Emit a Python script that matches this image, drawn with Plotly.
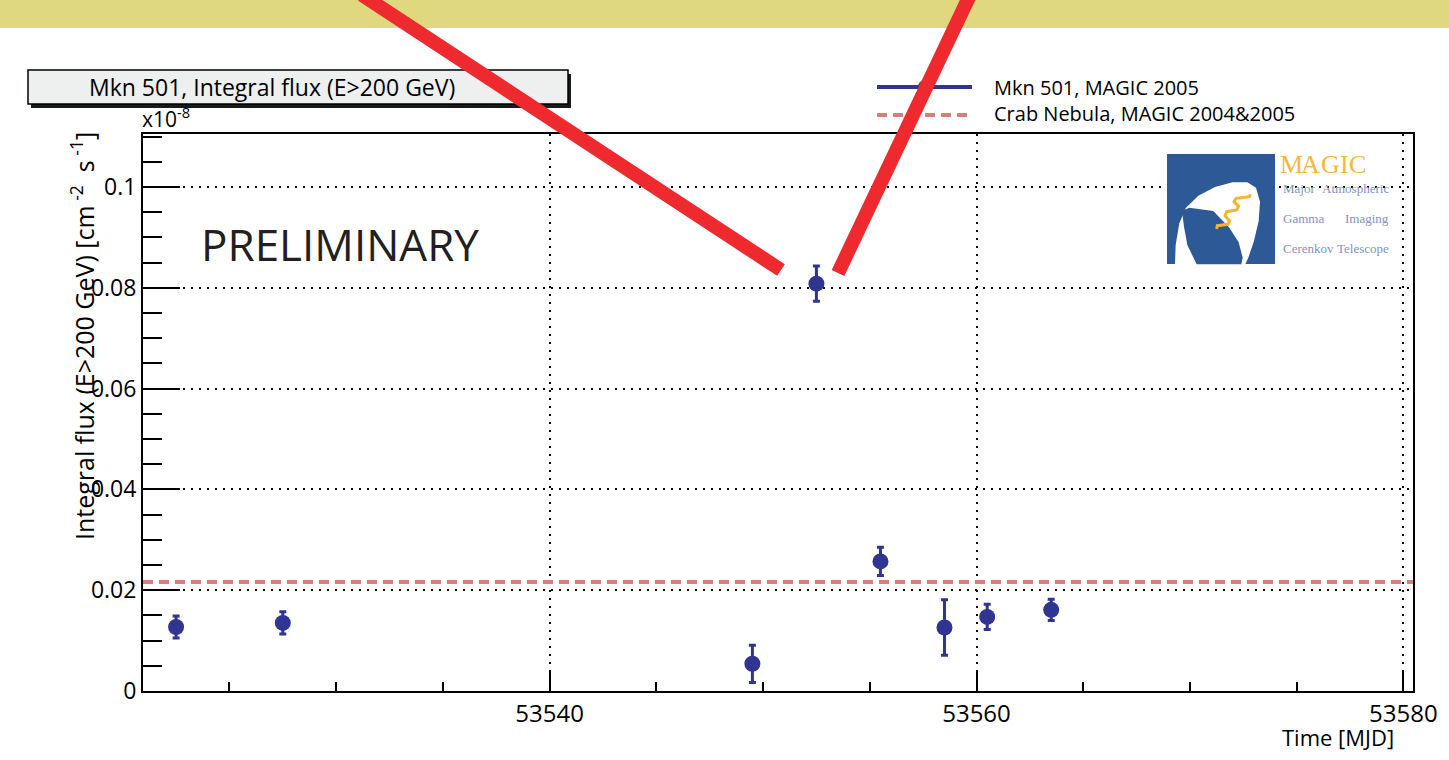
import plotly.graph_objects as go

# ---------------- data ----------------
mjd = [53522.5, 53527.5, 53549.5, 53552.5, 53555.5, 53558.5, 53560.5, 53563.5]
flux = [0.0127, 0.0135, 0.0054, 0.0808, 0.0257, 0.0126, 0.0147, 0.0161]
flux_err = [0.0022, 0.0022, 0.0037, 0.0035, 0.0028, 0.0055, 0.0025, 0.0021]
crab_flux = 0.0216
x_range = [53520.95, 53580.45]
y_range = [0.0, 0.1105]
y_tickvals = [0, 0.02, 0.04, 0.06, 0.08, 0.1]
y_ticktext = ["0", "0.02", "0.04", "0.06", "0.08", "0.1"]
x_tickvals = [53540, 53560, 53580]
x_ticktext = ["53540", "53560", "53580"]

W, H = 1449, 760
L, R, T, B = 143, 1413, 134, 691


def px(x):
    return (x - L) / (R - L)


def py(y):
    return (B - y) / (B - T)


def path_from(points, close=True):
    s = "M " + " L ".join(f"{px(a):.5f},{py(b):.5f}" for a, b in points)
    return s + (" Z" if close else "")


def logo(zx, zy):
    return (1160 + zx / 3.0, 145 + zy / 3.0)


BLUE = "#2f3590"
CRAB = "#d67e7e"
LOGO_BLUE = "#2d5a96"
FONT = "Open Sans"

fig = go.Figure()

fig.add_trace(go.Scatter(
    x=x_range, y=[crab_flux, crab_flux], mode="lines",
    line=dict(color=CRAB, width=4, dash="10px,6px"),
    hoverinfo="skip", showlegend=False, cliponaxis=True,
))

fig.add_trace(go.Scatter(
    x=mjd, y=flux, mode="markers",
    marker=dict(color=BLUE, size=16, line=dict(width=0)),
    error_y=dict(type="data", array=flux_err, color=BLUE, thickness=3, width=3.5),
    showlegend=False,
))

shapes = []
# yellow band at top of slide
shapes.append(dict(type="rect", xref="paper", yref="paper",
                   x0=px(0), x1=px(W), y0=py(0), y1=py(28),
                   fillcolor="#dfd87e", line=dict(width=0), layer="below"))
# title box with shadow
shapes.append(dict(type="rect", xref="paper", yref="paper",
                   x0=px(31), x1=px(571), y0=py(74), y1=py(108),
                   fillcolor="#1a1a1a", line=dict(width=0), layer="above"))
shapes.append(dict(type="rect", xref="paper", yref="paper",
                   x0=px(28), x1=px(568), y0=py(70), y1=py(104),
                   fillcolor="#eef0f0", line=dict(color="black", width=1.5), layer="above"))
# legend symbols
shapes.append(dict(type="line", xref="paper", yref="paper",
                   x0=px(877), x1=px(972), y0=py(87), y1=py(87),
                   line=dict(color=BLUE, width=4), layer="above"))
shapes.append(dict(type="circle", xref="paper", yref="paper",
                   x0=px(918), x1=px(932), y0=py(80), y1=py(94),
                   fillcolor=BLUE, line=dict(width=0), layer="above"))
shapes.append(dict(type="line", xref="paper", yref="paper",
                   x0=px(877), x1=px(972), y0=py(115), y1=py(115),
                   line=dict(color=CRAB, width=4, dash="10px,6px"), layer="above"))
# MAGIC logo
shapes.append(dict(type="rect", xref="paper", yref="paper",
                   x0=px(1167), x1=px(1275), y0=py(154), y1=py(264),
                   fillcolor=LOGO_BLUE, line=dict(width=0), layer="above"))
oval = [logo(*p) for p in [(45, 358), (47, 300), (58, 235), (78, 188), (115, 152),
                           (165, 126), (218, 112), (262, 112), (288, 128), (300, 170),
                           (296, 228), (282, 288), (266, 335), (256, 358)]]
shapes.append(dict(type="path", xref="paper", yref="paper", path=path_from(oval),
                   fillcolor="white", line=dict(width=0), layer="above"))
inner = [logo(*p) for p in [(66, 198), (88, 188), (160, 198), (208, 248), (236, 292),
                            (248, 338), (244, 358), (110, 358), (82, 300), (72, 245)]]
shapes.append(dict(type="path", xref="paper", yref="paper", path=path_from(inner),
                   fillcolor=LOGO_BLUE, line=dict(width=0), layer="above"))
wiggle = [logo(*p) for p in [(170, 252), (172, 242), (204, 238), (209, 228), (195, 212),
                             (200, 200), (230, 195), (236, 184), (222, 170), (228, 160),
                             (255, 157), (268, 155), (272, 148)]]
shapes.append(dict(type="path", xref="paper", yref="paper", path=path_from(wiggle, close=False),
                   line=dict(color="#f2b632", width=3), layer="above"))
# red slashes
shapes.append(dict(type="line", xref="paper", yref="paper",
                   x0=px(362), y0=py(-5), x1=px(781), y1=py(270),
                   line=dict(color="#ee2a2e", width=14), layer="above"))
shapes.append(dict(type="line", xref="paper", yref="paper",
                   x0=px(970), y0=py(-5), x1=px(838), y1=py(273),
                   line=dict(color="#ee2a2e", width=14), layer="above"))

ann = []
ann.append(dict(text="Mkn 501, Integral flux (E>200 GeV)", x=px(272), y=py(87),
                xref="paper", yref="paper", showarrow=False, xanchor="center", yanchor="middle",
                font=dict(family=FONT, size=23, color="black")))
ann.append(dict(text="Mkn 501, MAGIC 2005", x=px(992), y=py(87),
                xref="paper", yref="paper", showarrow=False, xanchor="left", yanchor="middle",
                font=dict(family=FONT, size=20, color="black")))
ann.append(dict(text="Crab Nebula, MAGIC 2004&2005", x=px(992), y=py(113),
                xref="paper", yref="paper", showarrow=False, xanchor="left", yanchor="middle",
                font=dict(family=FONT, size=20, color="black")))
ann.append(dict(text="PRELIMINARY", x=px(199), y=py(244),
                xref="paper", yref="paper", showarrow=False, xanchor="left", yanchor="middle",
                font=dict(family=FONT, size=44, color="#231f20")))
ann.append(dict(text="x10<sup>-8</sup>", x=px(140), y=py(135),
                xref="paper", yref="paper", showarrow=False, xanchor="left", yanchor="bottom",
                font=dict(family=FONT, size=21, color="black")))
ann.append(dict(text="Integral flux (E>200 GeV) [cm<sup> -2</sup>  s<sup> -1</sup>]",
                x=px(82), y=py(130), textangle=-90,
                xref="paper", yref="paper", showarrow=False, xanchor="center", yanchor="top",
                font=dict(family=FONT, size=25, color="black")))
ann.append(dict(text="Time [MJD]", x=px(1396), y=py(737),
                xref="paper", yref="paper", showarrow=False, xanchor="right", yanchor="middle",
                font=dict(family=FONT, size=22, color="black")))
# MAGIC logo text
for letter, cx in zip("MAGIC", [1291, 1310, 1330, 1344, 1357]):
    ann.append(dict(text=letter, x=px(cx), y=py(165),
                    xref="paper", yref="paper", showarrow=False, xanchor="center", yanchor="middle",
                    font=dict(family="Liberation Serif", size=26, color="#f5b83d")))
for (lw, rw, yy) in [("Major", "Atmospheric", 188), ("Gamma", "Imaging", 218),
                     ("Cerenkov", "Telescope", 248)]:
    ann.append(dict(text=lw, x=px(1281), y=py(yy), xref="paper", yref="paper",
                    showarrow=False, xanchor="left", yanchor="middle",
                    font=dict(family="Liberation Serif", size=13, color="#7f93bb")))
    ann.append(dict(text=rw, x=px(1391), y=py(yy), xref="paper", yref="paper",
                    showarrow=False, xanchor="right", yanchor="middle",
                    font=dict(family="Liberation Serif", size=13, color="#7f93bb")))

fig.update_layout(
    width=W, height=H,
    margin=dict(l=L, r=W - R, t=T, b=H - B, pad=0),
    paper_bgcolor="white", plot_bgcolor="white",
    showlegend=False,
    shapes=shapes, annotations=ann,
    font=dict(family=FONT, color="black"),
)

fig.update_xaxes(
    range=x_range, tickmode="array", tickvals=x_tickvals, ticktext=x_ticktext,
    ticks="inside", ticklen=19, tickwidth=2, tickcolor="black",
    showline=True, linecolor="black", linewidth=2, mirror=True,
    showgrid=True, gridcolor="black", gridwidth=2, griddash="2px,6px",
    zeroline=False, tickfont=dict(family=FONT, size=24, color="black"),
    minor=dict(dtick=5, tick0=53520, ticks="inside", ticklen=9, tickwidth=2,
               tickcolor="black", showgrid=False),
)
fig.update_yaxes(
    range=y_range, tickmode="array", tickvals=y_tickvals, ticktext=y_ticktext,
    ticks="inside", ticklen=37, tickwidth=2, tickcolor="black",
    showline=True, linecolor="black", linewidth=2, mirror=True,
    showgrid=True, gridcolor="black", gridwidth=2, griddash="2px,6px",
    zeroline=False, tickfont=dict(family=FONT, size=23, color="black"),
    minor=dict(dtick=0.005, tick0=0, ticks="inside", ticklen=19, tickwidth=2,
               tickcolor="black", showgrid=False),
)

fig.write_html("out.html", config={"displayModeBar": False},
               post_script="document.body.style.margin='0';document.body.style.overflow='hidden';")
